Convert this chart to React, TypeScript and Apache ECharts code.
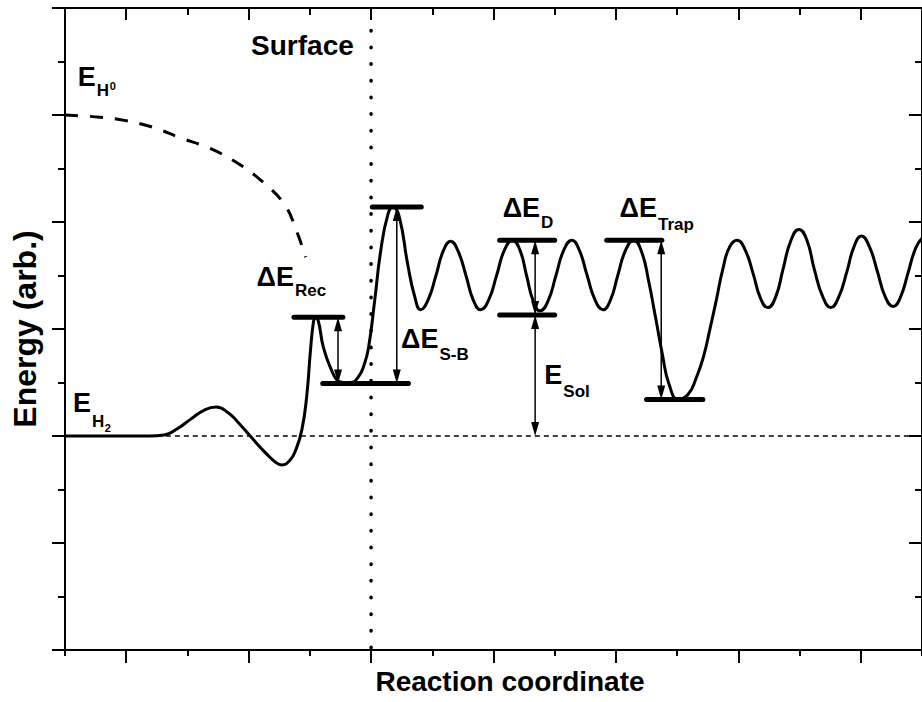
import React, { useEffect, useRef } from "react";
import * as echarts from "echarts";

// ---- data (arbitrary units) ----
// solid potential-energy curve
const curveX = [
  0.0, 1.38, 1.62, 1.84, 2.06, 2.27, 2.47, 2.66, 2.84, 3.04, 3.28, 3.43, 3.54, 3.67, 3.77, 3.87, 3.95, 4.01, 4.06, 4.09,
  4.14, 4.22, 4.35, 4.45, 4.55, 4.66, 4.79, 4.89, 4.96, 5.06, 5.16, 5.28, 5.36, 5.46, 5.6, 5.71, 5.81,
  5.93, 6.06, 6.18, 6.3, 6.42, 6.55, 6.67, 6.79, 6.92, 7.05, 7.18, 7.31, 7.43, 7.54, 7.65, 7.76, 7.89, 8.02, 8.15, 8.28,
  8.4, 8.53, 8.66, 8.79, 8.91, 9.03, 9.16, 9.29,
  9.42, 9.53, 9.65, 9.76, 9.87, 10.02, 10.18, 10.31, 10.43, 10.54, 10.64, 10.75, 10.86, 10.98,
  11.11, 11.24, 11.36, 11.48, 11.61, 11.73, 11.86, 11.99, 12.12, 12.24, 12.38, 12.51, 12.64, 12.77, 12.89, 13.01,
  13.14, 13.27, 13.4, 13.53, 13.65, 13.77, 13.9, 14.02,
];
const curveY = [
  2.0, 2.0, 2.01, 2.07, 2.16, 2.24, 2.27, 2.22, 2.12, 1.99, 1.84, 1.76, 1.73, 1.77, 1.87, 2.06, 2.38, 2.8, 3.07, 3.11,
  3.07, 2.83, 2.62, 2.52, 2.5, 2.5, 2.55, 2.67, 2.83, 3.27, 3.74, 4.08, 4.14, 4.05, 3.6, 3.31, 3.18,
  3.27, 3.5, 3.73, 3.82, 3.73, 3.5, 3.27, 3.18, 3.27, 3.5, 3.74, 3.83, 3.74, 3.5, 3.26, 3.17, 3.26, 3.5, 3.74, 3.83,
  3.74, 3.5, 3.27, 3.18, 3.27, 3.5, 3.74, 3.83,
  3.72, 3.46, 3.1, 2.76, 2.48, 2.34, 2.39, 2.54, 2.74, 3.01, 3.27, 3.57, 3.77, 3.83,
  3.74, 3.52, 3.29, 3.2, 3.3, 3.56, 3.83, 3.93, 3.83, 3.56, 3.3, 3.2, 3.3, 3.53, 3.77, 3.87,
  3.77, 3.54, 3.3, 3.21, 3.3, 3.52, 3.76, 3.86,
];

// dashed E_H0 curve
const h0X = [0.0, 0.57, 0.97, 1.41, 1.87, 2.36, 2.79, 3.22, 3.59, 3.8, 3.93];
const h0Y = [5.0, 4.98, 4.95, 4.89, 4.79, 4.69, 4.56, 4.38, 4.16, 3.89, 3.67];

// E_H2 reference level and surface position
const refX = [1.5, 14];
const refY = [2.0, 2.0];
const surfaceX = [5, 5];
const surfaceY = [5.79, 0];

// horizontal energy levels
const levelX1 = [3.74, 4.21, 5.02, 7.1, 7.1, 8.85, 9.5];
const levelX2 = [4.54, 5.61, 5.82, 8.0, 8.0, 9.75, 10.42];
const levelY = [3.11, 2.49, 4.14, 3.83, 3.13, 3.83, 2.34];

// double-headed arrows
const arrowX = [4.46, 5.42, 7.68, 7.68, 9.74];
const arrowTop = [3.11, 4.14, 3.83, 3.13, 3.83];
const arrowBottom = [2.49, 2.49, 3.13, 2.0, 2.34];

// labels
const labelMain = ["Surface", "E", "E", "ΔE", "ΔE", "ΔE", "ΔE", "E"];
const labelSub = ["", "H", "H", "Rec", "S-B", "D", "Trap", "Sol"];
const labelTiny = ["", "0", "2", "", "", "", "", ""];
const labelX = [3.04, 0.21, 0.13, 3.13, 5.49, 7.15, 9.06, 7.83];
const labelY = [5.645, 5.355, 2.31, 3.49, 2.91, 4.13, 4.13, 2.57];

// axis ticks
const xMajorTicks = [1, 3, 5, 7, 9, 11, 13];
const xMinorTicks = [0, 2, 4, 6, 8, 10, 12, 14];

// ---- styling ----
const FAMILY = '"Liberation Sans", Arial, Helvetica, sans-serif';
const labelSubDrop = [0, 13.5, 19, 14, 16, 14.5, 16.5, 16];
const labelTinyDrop = [0, 9, 25, 0, 0, 0, 0, 0];

let measureCtx: CanvasRenderingContext2D | null = null;
function measure(text: string, font: string): number {
  if (!measureCtx) measureCtx = document.createElement("canvas").getContext("2d");
  if (!measureCtx) return text.length * 10;
  measureCtx.font = font;
  return measureCtx.measureText(text).width;
}

const BLACK = "#000";

function xAxisDef(position: string, ticks: number[], len: number, inside: boolean, showLine: boolean) {
  return {
    type: "value",
    position,
    min: 0,
    max: 14,
    axisLine: { show: showLine, onZero: false, lineStyle: { color: BLACK, width: 2 } },
    axisTick: { show: true, inside, length: len, customValues: ticks, lineStyle: { color: BLACK, width: 2 } },
    axisLabel: { show: false },
    splitLine: { show: false },
  };
}

function yAxisDef(position: string, inside: boolean) {
  return {
    type: "value",
    position,
    min: 0,
    max: 6,
    interval: 1,
    axisLine: { show: true, onZero: false, lineStyle: { color: BLACK, width: 2 } },
    axisTick: { show: true, inside, length: 13, lineStyle: { color: BLACK, width: 2 } },
    minorTick: { show: true, splitNumber: 2, length: 7, lineStyle: { color: BLACK, width: 2 } },
    axisLabel: { show: false },
    splitLine: { show: false },
    minorSplitLine: { show: false },
  };
}

export default function App() {
  const ref = useRef<HTMLDivElement>(null);

  useEffect(() => {
    if (!ref.current) return;
    const chart = echarts.init(ref.current, null, { renderer: "svg" });

    const mainFontOf = (i: number) => `bold ${i === 0 ? 28 : 27}px ${FAMILY}`;
    const subFont = `bold 17px ${FAMILY}`;
    const tinyFont = `bold 11px ${FAMILY}`;

    const option: any = {
      animation: false,
      backgroundColor: "#fff",
      grid: { left: 65, top: 8, width: 862, height: 642, containLabel: false },
      xAxis: [
        xAxisDef("bottom", xMajorTicks, 13, false, true),
        xAxisDef("bottom", xMinorTicks, 6, false, false),
        xAxisDef("top", xMajorTicks, 12, true, true),
        xAxisDef("top", xMinorTicks, 7, true, false),
      ],
      yAxis: [yAxisDef("left", false), yAxisDef("right", true)],
      graphic: [
        {
          type: "text",
          x: 25,
          y: 329,
          rotation: Math.PI / 2,
          style: {
            text: "Energy (arb.)",
            font: `bold 32px ${FAMILY}`,
            fill: BLACK,
            textAlign: "center",
            textVerticalAlign: "middle",
          },
        },
        {
          type: "text",
          x: 510,
          y: 681,
          style: {
            text: "Reaction coordinate",
            font: `bold 28px ${FAMILY}`,
            fill: BLACK,
            textAlign: "center",
            textVerticalAlign: "middle",
          },
        },
      ],
      series: [
        {
          type: "line",
          name: "E_H2 level",
          data: refX.map((x, i) => [x, refY[i]]),
          showSymbol: false,
          silent: true,
          lineStyle: { color: BLACK, width: 1.3, type: [5, 4] },
        },
        {
          type: "line",
          name: "surface",
          data: surfaceX.map((x, i) => [x, surfaceY[i]]),
          showSymbol: false,
          silent: true,
          lineStyle: { color: BLACK, width: 3.5, type: [0.5, 16.17], cap: "round" },
        },
        {
          type: "line",
          name: "E_H0",
          data: h0X.map((x, i) => [x, h0Y[i]]),
          showSymbol: false,
          smooth: 0.4,
          silent: true,
          lineStyle: { color: BLACK, width: 3, type: [13, 12] },
        },
        {
          type: "line",
          name: "potential",
          data: curveX.map((x, i) => [x, curveY[i]]),
          showSymbol: false,
          smooth: 0.5,
          silent: true,
          lineStyle: { color: BLACK, width: 3 },
        },
        {
          type: "custom",
          name: "levels",
          silent: true,
          encode: { x: [0, 1], y: 2 },
          data: levelY.map((y, i) => [levelX1[i], levelX2[i], y]),
          renderItem: (_p: any, api: any) => {
            const a = api.coord([api.value(0), api.value(2)]);
            const b = api.coord([api.value(1), api.value(2)]);
            return {
              type: "line",
              shape: { x1: a[0], y1: a[1], x2: b[0], y2: b[1] },
              style: { stroke: BLACK, lineWidth: 5, lineCap: "round" },
            };
          },
        },
        {
          type: "custom",
          name: "arrows",
          silent: true,
          encode: { x: 0, y: [1, 2] },
          data: arrowX.map((x, i) => [x, arrowTop[i], arrowBottom[i]]),
          renderItem: (_p: any, api: any) => {
            const t = api.coord([api.value(0), api.value(1)]);
            const b = api.coord([api.value(0), api.value(2)]);
            const x = t[0];
            const hl = 14;
            const hw = 4;
            return {
              type: "group",
              children: [
                {
                  type: "line",
                  shape: { x1: x, y1: t[1] + 4, x2: x, y2: b[1] - 4 },
                  style: { stroke: BLACK, lineWidth: 1.5 },
                },
                {
                  type: "polygon",
                  shape: { points: [[x, t[1]], [x - hw, t[1] + hl], [x + hw, t[1] + hl]] },
                  style: { fill: BLACK },
                },
                {
                  type: "polygon",
                  shape: { points: [[x, b[1]], [x - hw, b[1] - hl], [x + hw, b[1] - hl]] },
                  style: { fill: BLACK },
                },
              ],
            };
          },
        },
        {
          type: "custom",
          name: "labels",
          silent: true,
          clip: false,
          encode: { x: 0, y: 1 },
          data: labelMain.map((_m, i) => [labelX[i], labelY[i], i]),
          renderItem: (_p: any, api: any) => {
            const i = api.value(2) as number;
            const p = api.coord([api.value(0), api.value(1)]);
            const mf = mainFontOf(i);
            const children: any[] = [
              {
                type: "text",
                style: {
                  x: p[0],
                  y: p[1],
                  text: labelMain[i],
                  font: mf,
                  fill: BLACK,
                  textAlign: "left",
                  textVerticalAlign: "middle",
                },
              },
            ];
            if (labelSub[i]) {
              const sx = p[0] + measure(labelMain[i], mf) + 1;
              children.push({
                type: "text",
                style: {
                  x: sx,
                  y: p[1] + labelSubDrop[i],
                  text: labelSub[i],
                  font: subFont,
                  fill: BLACK,
                  textAlign: "left",
                  textVerticalAlign: "middle",
                },
              });
              if (labelTiny[i]) {
                const tx = sx + measure(labelSub[i], subFont) + 0.5;
                children.push({
                  type: "text",
                  style: {
                    x: tx,
                    y: p[1] + labelTinyDrop[i],
                    text: labelTiny[i],
                    font: tinyFont,
                    fill: BLACK,
                    textAlign: "left",
                    textVerticalAlign: "middle",
                  },
                });
              }
            }
            return { type: "group", children };
          },
        },
      ],
    };

    chart.setOption(option);
    return () => chart.dispose();
  }, []);

  return (
    <div
      ref={ref}
      style={{ position: "fixed", left: 0, top: 0, width: 922, height: 702, background: "#fff" }}
    />
  );
}
